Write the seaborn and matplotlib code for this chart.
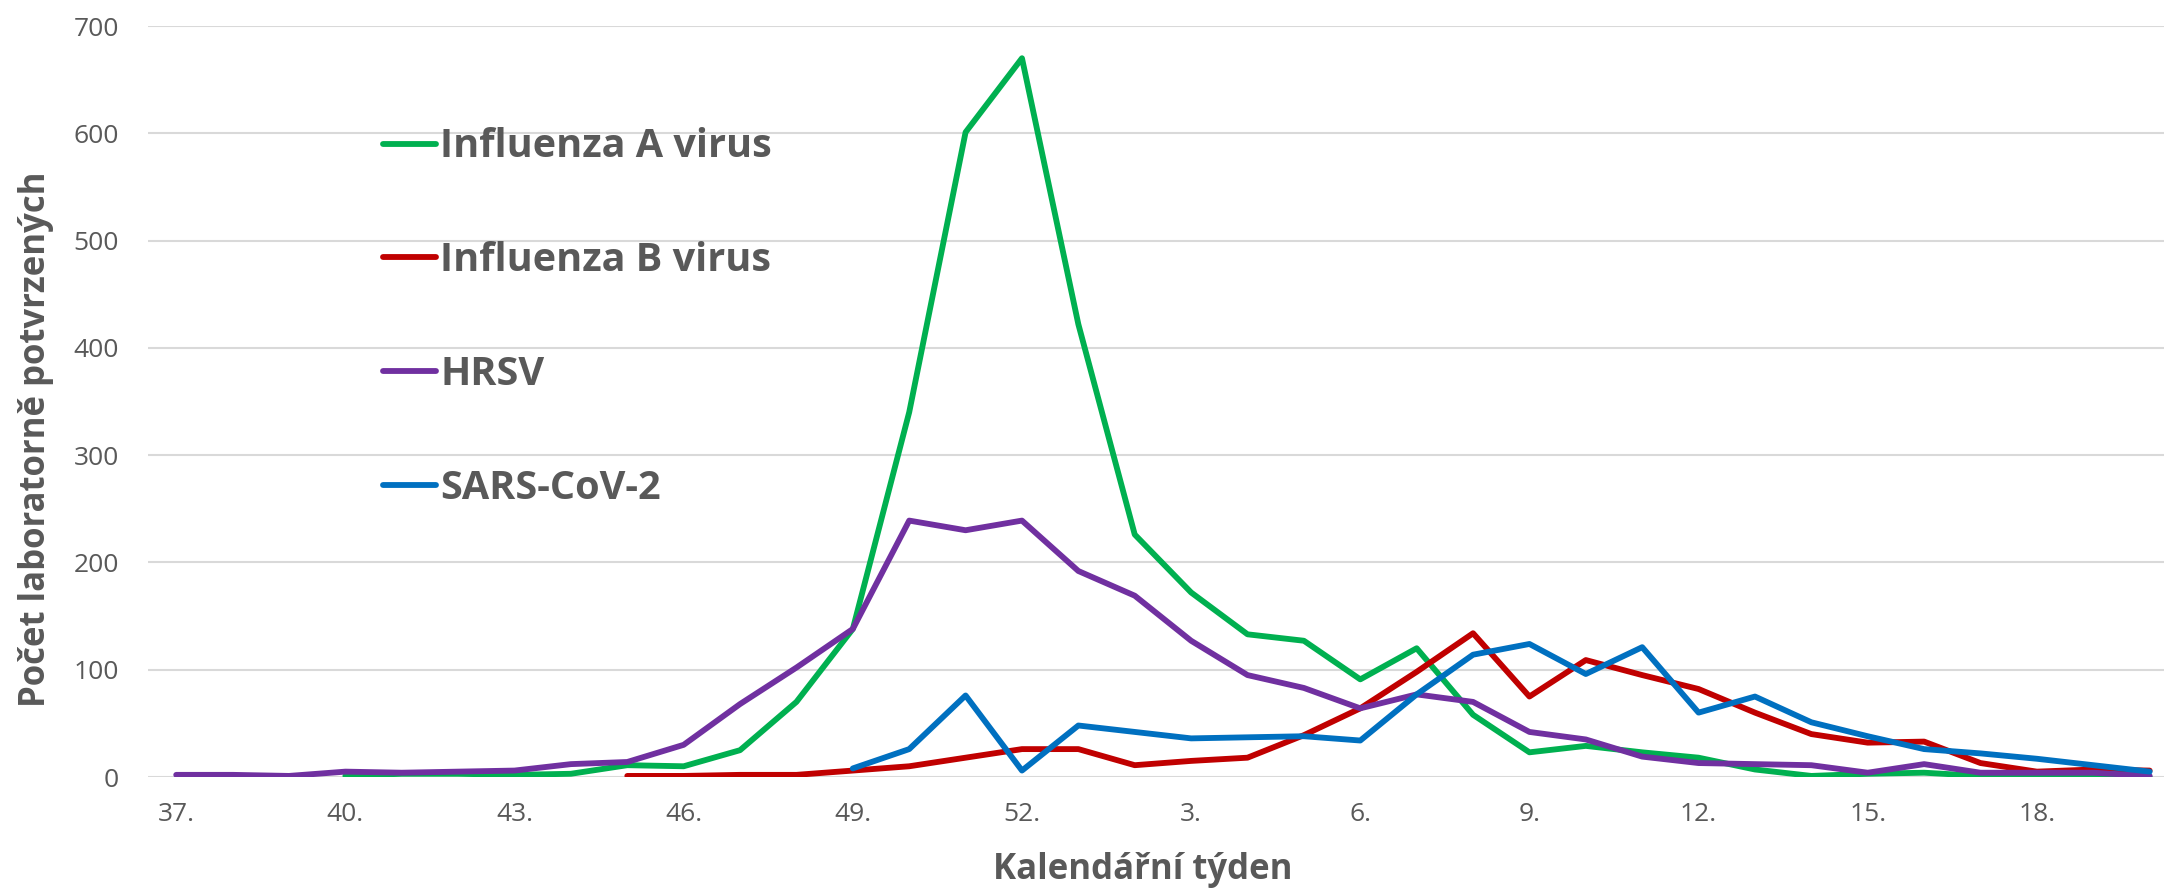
import numpy as np
import pandas as pd
import matplotlib
matplotlib.use('Agg')
import matplotlib.pyplot as plt
import seaborn as sns

# Calendar weeks of the season (37. .. 52., then 1. .. 20.)
weeks = list(range(37, 53)) + list(range(1, 21))
week_labels = [f"{w}." for w in weeks]

# Weekly laboratory-confirmed counts (None = not reported yet)
flu_a = [None, None, None, 1, 3, 3, 2, 3, 11, 10, 25, 70, 138, 340, 601, 670,
         422, 226, 172, 133, 127, 91, 120, 58, 23, 29, 23, 18, 7, 1, 3, 4, 1, 1, 0, 0]
flu_b = [None, None, None, None, None, None, None, None, 1, 1, 2, 2, 6, 10, 18, 26,
         26, 11, 15, 18, 39, 64, 98, 134, 75, 109, 95, 82, 60, 40, 32, 33, 13, 5, 7, 6]
hrsv = [2, 2, 1, 5, 4, 5, 6, 12, 14, 30, 68, 102, 138, 239, 230, 239,
        192, 169, 127, 95, 83, 64, 77, 70, 42, 35, 19, 13, 12, 11, 4, 12, 4, 4, 4, 1]
sars = [None] * 12 + [8, 26, 76, 6,
                      48, 42, 36, 37, 38, 34, 77, 114, 124, 96, 121, 60, 75, 51, 38, 26, 22, 17, 11, 5]

series_names = ['Influenza A virus', 'Influenza B virus', 'HRSV', 'SARS-CoV-2']
series_values = [flu_a, flu_b, hrsv, sars]
palette = {
    'Influenza A virus': '#00B050',
    'Influenza B virus': '#C00000',
    'HRSV': '#7030A0',
    'SARS-CoV-2': '#0070C0',
}

# long-form table for seaborn
rows = []
for name, vals in zip(series_names, series_values):
    for pos, v in enumerate(vals):
        if v is not None:
            rows.append({'pos': pos, 'count': v, 'virus': name})
df = pd.DataFrame(rows)

sns.set_theme(style="white")
plt.rcParams['font.family'] = ['Open Sans', 'DejaVu Sans']

text_grey = '#595959'

fig = plt.figure(figsize=(21.64, 8.88), dpi=100)
# axes runs a little past the right edge, like the cropped original
ax = fig.add_axes([0.0684, 0.125, 0.938, 0.8457])

sns.lineplot(data=df, x='pos', y='count', hue='virus', hue_order=series_names,
             palette=palette, linewidth=4.2, ax=ax, sort=True)

ax.set_xlim(-0.5, 35.5)
ax.set_ylim(0, 700)
ax.set_yticks(np.arange(0, 701, 100))
tick_pos = list(range(0, len(weeks), 3))
ax.set_xticks(tick_pos)
ax.set_xticklabels([week_labels[i] for i in tick_pos])

ax.grid(axis='y', color='#D9D9D9', linewidth=1.5)
ax.grid(axis='x', visible=False)
ax.set_axisbelow(True)
for s in ax.spines.values():
    s.set_visible(False)

ax.tick_params(axis='both', length=0, labelsize=19, labelcolor=text_grey)
ax.tick_params(axis='y', pad=21)
ax.tick_params(axis='x', pad=18)

ax.set_xlabel('Kalendářní týden', fontsize=25, fontweight='bold', color=text_grey)
ax.set_ylabel('Počet laboratorně potvrzených', fontsize=25, fontweight='bold', color=text_grey)
ax.xaxis.set_label_coords(0.49, -0.124)
ax.xaxis.label.set_va('center')
ax.yaxis.set_label_coords(-0.055, 0.45)
ax.yaxis.label.set_va('center')

handles, labels = ax.get_legend_handles_labels()
leg = ax.legend(handles, labels, loc='upper left', bbox_to_anchor=(0.116, 0.865),
                frameon=False, fontsize=28.5, labelspacing=1.89, handlelength=1.32,
                handletextpad=0.12, borderpad=0, borderaxespad=0)
for t in leg.get_texts():
    t.set_color(text_grey)
    t.set_fontweight('bold')
for h in leg.get_lines():
    h.set_linewidth(4.2)

fig.savefig('out.png', dpi=100)
